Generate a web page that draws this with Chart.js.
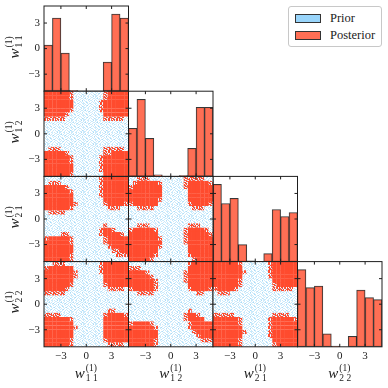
<!DOCTYPE html>
<html><head><meta charset="utf-8">
<script src="https://cdn.jsdelivr.net/npm/chart.js@4.4.1/dist/chart.umd.min.js"></script>
<style>
html,body{margin:0;padding:0;background:#fff;}
#wrap{position:relative;width:388px;height:388px;overflow:hidden;background:#fff;}
canvas{position:absolute;left:0;top:0;}
.title{position:absolute;font-family:'Liberation Serif','DejaVu Serif',serif;color:#222;white-space:nowrap;line-height:1;display:flex;align-items:center;}
.title .w{font-style:italic;font-size:15px;}
.title .ss{display:inline-flex;flex-direction:column;font-size:9.5px;line-height:10px;margin-left:1px;}
.legend{position:absolute;left:288px;top:6px;width:92px;height:39px;border:1px solid #c8c8c8;border-radius:3px;background:#fff;font-family:'Liberation Serif','DejaVu Serif',serif;font-size:12.5px;color:#222;}
.legend .row{position:absolute;left:6px;height:10px;display:flex;align-items:center;}
.legend .patch{width:24px;height:7px;border:1px solid #333;}
.legend .txt{position:absolute;left:35px;top:-2px;line-height:14px;}
</style></head><body><div id="wrap"></div>
<script>
// ---------------- data ----------------
const paramSubs = ['1 1', '1 2', '2 1', '2 2'];
const paramSup = '(1)';
const tickValues = [-3, 0, 3];
const tickLabels = ['\u22123', '0', '3'];
const binCenters = [-4.5, -3.5, -2.5, -1.5, -0.5, 0.5, 1.5, 2.5, 3.5, 4.5];
const histW11 = [46, 73, 38, 0.5, 0, 0, 0, 29, 77, 73];
const histW12 = [48, 77, 38, 1.5, 0, 0, 0.7, 28, 69, 69];
const histW21 = [77, 58, 63, 17, 0.7, 0, 8, 52, 45, 49];
const histW22 = [77, 59, 60.5, 13, 0.7, 0, 10.5, 56.5, 49, 47];
const legendLabels = ['Prior', 'Posterior'];

// posterior density grids (rows: w_row from 5 down to -5; cols: w_col from -5 to 5)
// '#' dense posterior, '+' sparse posterior edge, '.' prior only
const gridW12vsW11 = [
"######+.......+#####","######+.......+#####","#######......+######","#######......+######",
"######+......+######","#####+........######","+++++.........+++++.","....................",
"....................","....................","....................","....................",
"....................",".+++..........+++++.","#####+........++####","######+......+######",
"######+......+######","#######......+######","#######......+######","######+.......######"];
const gridW21vsW11 = [
".............+######",".+++.........+######","#####+.......+######","######+......+######",
"#######......+######","#######.......######","#######+......+####+","######+........+++..",
".++++...............","....................","....................","..............+.....",
".............+##+...","....++.......+####+.","+#####+.......+#####","######+.......+#####",
"#######........+####","#######.........++##","######+..........+++","######+............."];
const gridW21vsW12 = [
"..+++........+++++..",".+#####+.....+#####+","+#######.....+######","########......######",
"########......######","#######+......######","+######.......+####+","..++++.........+++..",
"....................","....................","....................","..+++.........+++...",
"+#####+......+####+.","#######......+#####+","#######+.....+######","########.....+######",
"#######+......######","#######.......######","######+.......+#####","#####+.........+####"];
const gridW22vsW11 = [
"..+++........+######","+######......+######","#######+.....+######","#######+......######",
"#######.......######","######+.......+#####","#####+.........++++.","+++++...............",
"....................","....................","....................","...............++...",
"++++..........+####+","######+.......######","#######.......######","#######+......######",
"#######.......######","#######.......######","######+.......+#####","######+........++++."];
const gridW22vsW12 = [
"..............+#####","+++...........######","####+........+######","#####+.......+######",
"######+......+######","######+.......######","+#####+.......+####+","..++++..........++..",
"....................","....................","....................","..............+.....",
".............+##+...",".............+####..","+####+........+#####","######+.......+#####",
"#######........+####","#######.........+###","######+..........+++","######+............."];
const gridW22vsW21 = [
"######+......+######","#######......+######","#######+.....+######","#######......+######",
"######+.......######","######+.......+#####","+####+........+++++.",".+++................",
"....................","....................","....................","....................",
"+++++.........++++..","######+......+#####+","######+......+######","#######......+######",
"#######+.....+######","#######......+######","######+.......######","######+.......+#####"];

// ---------------- layout / style ----------------
const W = 388, H = 388;
const colX = [44, 128.5, 213, 297.5, 382];
const rowY = [6, 91.2, 176.4, 261.6, 346.8];
const RED = '#ff4b2e';

function makePattern(rows, colors) {
  const c = document.createElement('canvas');
  c.width = rows[0].length; c.height = rows.length;
  const g = c.getContext('2d');
  rows.forEach((row, y) => [...row].forEach((ch, x) => { g.fillStyle = colors[ch]; g.fillRect(x, y, 1, 1); }));
  return g.createPattern(c, 'repeat');
}
const priorFill = makePattern([
"bwwbbwbwwcwb","wbwwbwwbbwwb","bcwbwwbwwbbw","wwbwbcwwbwwb",
"bwwwbwbbwwcw","wbbwwbwwbwbw","wwcbwwwbwbwb","bwwbwbcwwwbb",
"wbwwbwwbbwwb","bwbcwwbwwbww","wwbwwbwbwwcb","bbwwbwwwbbwb"],
{b:'#c9e9fb', c:'#a9dbf7', w:'#ffffff'});
const edgeFill = makePattern([
"rbrwrrbr","rrbrwbrr","brrrbrwr","rwbrrrbr","rrrbwrrb","bwrrbrrr","rrbwrrbr","wrrbrrwr"],
{r:RED, b:'#c9e9fb', w:'#ffffff'});

const framePlugin = {
  id: 'frame',
  afterDatasetsDraw(chart, args, opts) {
    const ctx = chart.ctx, a = chart.chartArea;
    const xs = chart.scales.x, ys = chart.scales[opts.yScale || 'y'];
    ctx.save();
    ctx.strokeStyle = '#1e1e1e'; ctx.lineWidth = 1;
    ctx.strokeRect(a.left, a.top, a.right - a.left, a.bottom - a.top);
    ctx.beginPath();
    tickValues.forEach(v => {
      const px = xs.getPixelForValue(v), py = ys.getPixelForValue(v);
      ctx.moveTo(px, a.bottom); ctx.lineTo(px, a.bottom - 3);
      ctx.moveTo(px, a.top); ctx.lineTo(px, a.top + 3);
      ctx.moveTo(a.left, py); ctx.lineTo(a.left + 3, py);
      ctx.moveTo(a.right, py); ctx.lineTo(a.right - 3, py);
    });
    ctx.stroke();
    ctx.fillStyle = '#222';
    ctx.font = "11px 'Liberation Serif', 'DejaVu Serif', serif";
    if (opts.showY) {
      ctx.textAlign = 'right'; ctx.textBaseline = 'middle';
      tickValues.forEach((v, i) => ctx.fillText(tickLabels[i], a.left - 4, ys.getPixelForValue(v)));
    }
    if (opts.showX) {
      ctx.textAlign = 'center'; ctx.textBaseline = 'top';
      tickValues.forEach((v, i) => ctx.fillText(tickLabels[i], xs.getPixelForValue(v), a.bottom + 4));
    }
    ctx.restore();
  }
};

const wrap = document.getElementById('wrap');
function newCanvas() {
  const c = document.createElement('canvas');
  c.width = W; c.height = H; c.style.width = W + 'px'; c.style.height = H + 'px';
  wrap.appendChild(c); return c;
}
function pad(r, c) {
  return {left: colX[c], top: rowY[r], right: W - colX[c + 1], bottom: H - rowY[r + 1]};
}
const axis = {type: 'linear', min: -5, max: 5, display: false, offset: false};

function gridPoints(grid, chars) {
  const pts = [];
  grid.forEach((row, r) => [...row].forEach((ch, c) => {
    if (chars.includes(ch)) pts.push({x: -5 + (c + 0.5) * 0.5, y: 5 - (r + 0.5) * 0.5});
  }));
  return pts;
}

function scatterPanel(r, c, grid) {
  const ds = (data, color) => ({data, backgroundColor: color, borderWidth: 0, pointStyle: 'rect', pointRadius: 3.15, clip: 0});
  new Chart(newCanvas(), {
    type: 'scatter',
    data: {datasets: [
      ds(gridPoints(grid, '.'), priorFill),
      ds(gridPoints(grid, '+'), edgeFill),
      ds(gridPoints(grid, '#'), RED)
    ]},
    options: {
      responsive: false, animation: false, events: [],
      layout: {padding: pad(r, c)},
      plugins: {legend: {display: false}, tooltip: {enabled: false},
        frame: {showY: c === 0, showX: r === 3}},
      scales: {x: {...axis}, y: {...axis}}
    },
    plugins: [framePlugin]
  });
}

function histPanel(i, counts) {
  new Chart(newCanvas(), {
    type: 'bar',
    data: {datasets: [{
      data: binCenters.map((b, k) => ({x: b, y: counts[k] > 0 ? counts[k] : null})),
      backgroundColor: 'rgba(255,99,71,0.92)', borderColor: 'rgba(20,20,20,0.85)',
      borderWidth: 1, borderSkipped: false, barPercentage: 1, categoryPercentage: 1
    }]},
    options: {
      responsive: false, animation: false, events: [],
      layout: {padding: pad(i, i)},
      plugins: {legend: {display: false}, tooltip: {enabled: false},
        frame: {showY: i === 0, showX: i === 3, yScale: 'yv'}},
      scales: {
        x: {...axis},
        y: {type: 'linear', min: 0, max: 85, display: false},
        yv: {...axis, position: 'left'}
      }
    },
    plugins: [framePlugin]
  });
}

histPanel(0, histW11);
histPanel(1, histW12);
histPanel(2, histW21);
histPanel(3, histW22);
scatterPanel(1, 0, gridW12vsW11);
scatterPanel(2, 0, gridW21vsW11);
scatterPanel(2, 1, gridW21vsW12);
scatterPanel(3, 0, gridW22vsW11);
scatterPanel(3, 1, gridW22vsW12);
scatterPanel(3, 2, gridW22vsW21);

// axis titles
function titleEl(sub) {
  const d = document.createElement('div');
  d.className = 'title';
  d.innerHTML = '<span class="w">w</span><span class="ss"><span>' + paramSup + '</span><span>' + sub + '</span></span>';
  wrap.appendChild(d);
  return d;
}
paramSubs.forEach((s, i) => {
  const cx = (colX[i] + colX[i + 1]) / 2;
  const t = titleEl(s);
  t.style.left = cx + 'px'; t.style.top = '373px';
  t.style.transform = 'translate(-50%,-50%)';
  const cy = (rowY[i] + rowY[i + 1]) / 2 - 2;
  const u = titleEl(s);
  u.style.left = '14px'; u.style.top = cy + 'px';
  u.style.transform = 'translate(-50%,-50%) rotate(-90deg)';
});

// legend
const lg = document.createElement('div');
lg.className = 'legend';
const legendColors = ['rgba(135,206,250,0.85)', 'rgba(255,99,71,0.92)'];
legendLabels.forEach((t, i) => {
  const row = document.createElement('div');
  row.className = 'row';
  row.style.top = (6 + i * 17) + 'px';
  row.innerHTML = '<div class="patch" style="background:' + legendColors[i] + '"></div><span class="txt">' + t + '</span>';
  lg.appendChild(row);
});
wrap.appendChild(lg);
</script>
</body></html>
